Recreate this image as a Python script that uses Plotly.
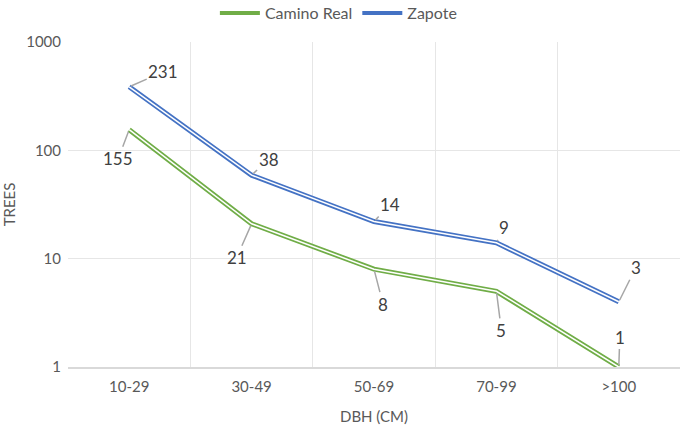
import plotly.graph_objects as go
import math

categories = ["10-29", "30-49", "50-69", "70-99", ">100"]
camino_real = [155, 21, 8, 5, 1]
zapote = [231, 38, 14, 9, 3]

# stacked line chart: Zapote plotted on top of Camino Real
zapote_stacked = [c + z for c, z in zip(camino_real, zapote)]

GREEN = "#70AD47"
BLUE = "#4472C4"
FONT = "Lato, Open Sans, sans-serif"

x = list(range(len(categories)))
fig = go.Figure()

def double_line(y, color, name):
    fig.add_trace(go.Scatter(x=x, y=y, mode="lines", name=name,
                             line=dict(color=color, width=5), cliponaxis=False,
                             legendgroup=name, showlegend=False))
    fig.add_trace(go.Scatter(x=x, y=y, mode="lines", name=name,
                             line=dict(color="white", width=1.5), cliponaxis=False,
                             legendgroup=name, showlegend=False, hoverinfo="skip"))

double_line(camino_real, GREEN, "Camino Real")
double_line(zapote_stacked, BLUE, "Zapote")

# legend entries
for name, color in [("Camino Real", GREEN), ("Zapote", BLUE)]:
    fig.add_trace(go.Scatter(x=[None], y=[None], mode="lines", name=name,
                             line=dict(color=color, width=4)))

# data label offsets (pixels)
camino_off = [(-11, 29), (-15, 34), (9, 35), (5, 39), (1, -30)]
zapote_off = [(34, -15), (17, -16), (16, -17), (8, -15), (17, -34)]

annotations = []
for i in x:
    for val, ypos, off in [(camino_real[i], camino_real[i], camino_off[i]),
                           (zapote[i], zapote_stacked[i], zapote_off[i])]:
        annotations.append(dict(
            x=i, y=math.log10(ypos), xref="x", yref="y",
            text=str(val), showarrow=True, arrowhead=0, arrowwidth=1.5,
            arrowcolor="#A6A6A6", ax=off[0], ay=off[1], standoff=2,
            font=dict(family=FONT, size=17, color="#404040")))

fig.update_layout(
    width=685, height=437,
    margin=dict(l=68, r=5, t=42, b=70, autoexpand=False),
    paper_bgcolor="white", plot_bgcolor="white",
    font=dict(family=FONT, color="#595959", size=15),
    showlegend=True,
    legend=dict(orientation="h", x=0.494, xanchor="center", xref="container",
                y=0.970, yanchor="middle", yref="container",
                font=dict(size=16, color="#595959"), itemwidth=40,
                traceorder="normal"),
    annotations=annotations,
)

fig.update_xaxes(
    range=[-0.5, 4.5], tickvals=x, ticktext=categories, showgrid=False,
    ticks="", showline=True, linecolor="#D9D9D9", linewidth=1.5,
    tickfont=dict(size=15, color="#595959"), ticklabelstandoff=5,
    title=dict(text="DBH (CM)", font=dict(size=15, color="#595959"), standoff=18),
    minor=dict(tickvals=[-0.5, 0.5, 1.5, 2.5, 3.5, 4.5], showgrid=True,
               gridcolor="#E6E6E6", gridwidth=1, ticks=""),
    zeroline=False, automargin=False,
)
fig.update_yaxes(
    type="log", range=[0, 3], tickvals=[1, 10, 100, 1000],
    ticktext=["1", "10", "100", "1000"], showgrid=True, gridcolor="#E6E6E6",
    gridwidth=1, ticks="", showline=False, zeroline=False,
    tickfont=dict(size=15, color="#595959"), ticklabelstandoff=6,
    title=dict(text="TREES", font=dict(size=15, color="#595959"), standoff=10),
    automargin=False,
)

fig.write_html("out.html", config={"displayModeBar": False},
               post_script="document.body.style.margin='0';")
